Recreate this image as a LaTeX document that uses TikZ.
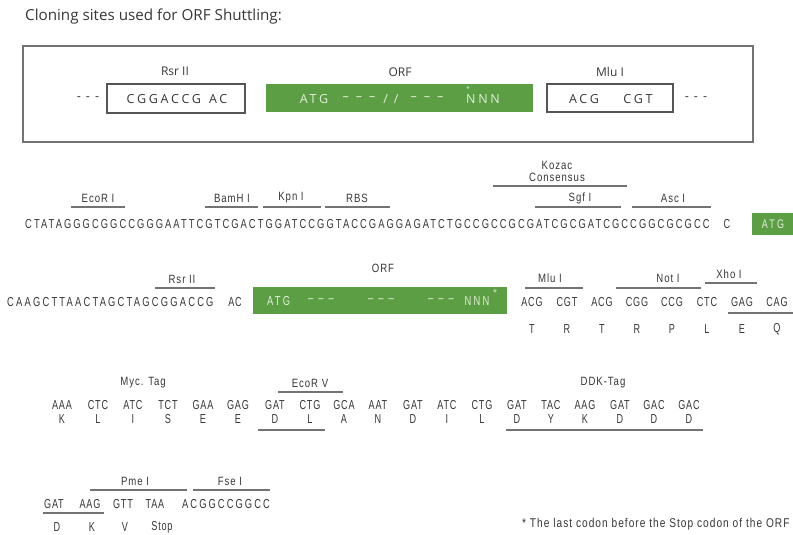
\documentclass[tikz,border=0pt]{standalone}
\usepackage{fontspec}
\setmainfont{Open Sans}
\newfontfamily\seqfont[FakeStretch=0.72,LetterSpace=17]{Liberation Sans}
\newfontfamily\seqfontb[FakeStretch=0.72,LetterSpace=15.8]{Liberation Sans}
\newfontfamily\codfont[FakeStretch=0.7,LetterSpace=6]{Liberation Sans}
\newfontfamily\labfont[FakeStretch=0.8,LetterSpace=8]{Liberation Sans}
\newfontfamily\boxfont[LetterSpace=22]{Open Sans}
\definecolor{orf}{RGB}{92,158,68}
\definecolor{ink}{RGB}{55,55,55}
\definecolor{rulec}{RGB}{115,115,115}
\definecolor{pale}{RGB}{226,238,220}
\newcommand\dsh{–\hspace{7pt}–\hspace{7pt}–}
\newcommand\dshs{–\hspace{5pt}–\hspace{5pt}–}
\tikzset{
  seq/.style={inner sep=0pt, anchor=west, text=ink, font=\seqfont\fontsize{13}{14}\selectfont},
  seqb/.style={seq, font=\seqfontb\fontsize{13}{14}\selectfont},
  cod/.style={inner sep=0pt, text=ink, font=\codfont\fontsize{13}{14}\selectfont},
  lab/.style={inner sep=0pt, text=ink, font=\labfont\fontsize{12}{13}\selectfont},
  bar/.style={draw=rulec, line width=1.3pt},
  boxlab/.style={inner sep=0pt, text=ink, font=\fontsize{12}{13}\selectfont},
  boxtxt/.style={inner sep=0pt, text=ink, font=\boxfont\fontsize{12.5}{14}\selectfont},
  whitebox/.style={draw=ink!85, line width=1.1pt, fill=white},
  greenbox/.style={fill=orf},
}
\begin{document}
\begin{tikzpicture}[x=1pt,y=-1pt]
\useasboundingbox[fill=white] (0,0) rectangle (793,535);

% title
\node[inner sep=0pt, anchor=west, text=ink, font=\fontsize{15.2}{17}\selectfont] (title) at (25,17) {Cloning sites used for ORF Shuttling:};

% top box
\draw[draw=rulec, line width=1.3pt] (23,46) rectangle (753,142);
\node[boxtxt] (dl) at (88,99) {-\hspace{5pt}-\hspace{5pt}-};
\draw[whitebox] (107,84) rectangle (245,113);
\node[boxtxt] (rsrseq) at (177,99) {CGGACCG\hspace{8pt}AC};
\node[boxlab] (rsrlab) at (175,71) {Rsr II};
\fill[greenbox] (266,84) rectangle (533,112);
\node[boxtxt, text=pale] (orfa) at (314,99) {ATG};
\node[boxtxt, text=pale] (orfb) at (359,99) {\dsh};
\node[boxtxt, text=pale] (orfc) at (391,99) {/ /};
\node[boxtxt, text=pale] (orfd) at (427,99) {\dsh};
\node[boxtxt, text=pale] (orfe) at (483,99) {NNN};
\node[inner sep=0pt, text=pale, font=\fontsize{7}{7}\selectfont] (orfstar) at (468,89) {*};
\node[boxlab] (orflab) at (400,72) {ORF};
\draw[whitebox] (547,84) rectangle (673,112);
\node[boxtxt] (mluseqa) at (584,99) {ACG};
\node[boxtxt] (mluseqb) at (638,99) {CGT};
\node[boxlab] (mlulab) at (610,72) {Mlu I};
\node[boxtxt] (dr) at (696,99) {-\hspace{5pt}-\hspace{5pt}-};

% row 2
\node[seqb] (s2) at (25,224) {CTATAGGGCGGCCGGGAATTCGTCGACTGGATCCGGTACCGAGGAGATCTGCCGCCGCGATCGCGATCGCCGGCGCGCC};
\node[cod] (s2c) at (727,224) {C};
\fill[greenbox] (752,213) rectangle (793,235);
\node[cod, text=pale, font=\seqfont\fontsize{12.5}{13}\selectfont] (s2atg) at (773,224) {ATG};
\node[lab] (ecori) at (98,198) {EcoR I};
\draw[bar] (71,207) -- (125,207);
\node[lab] (bamhi) at (232,198) {BamH I};
\draw[bar] (205,207) -- (258,207);
\node[lab] (kpni) at (291,198) {Kpn I};
\draw[bar] (263,207) -- (321,207);
\node[lab] (rbs) at (357,198) {RBS};
\draw[bar] (325,207) -- (390,207);
\node[lab] (kozac) at (557,165) {Kozac};
\node[lab] (consensus) at (557,177) {Consensus};
\draw[bar] (493,186) -- (627,186);
\node[lab] (sgfi) at (580,198) {Sgf I};
\draw[bar] (535,207) -- (621,207);
\node[lab] (asci) at (673,198) {Asc I};
\draw[bar] (632,207) -- (711,207);

% row 3
\node[seq] (s3) at (7,302) {CAAGCTTAACTAGCTAGCGGACCG};
\node[cod] (s3ac) at (235,302) {AC};
\node[lab] (rsr3) at (182,279) {Rsr II};
\draw[bar] (155,288) -- (215,288);
\node[lab] (orf3) at (383,268) {ORF};
\fill[greenbox] (253,287) rectangle (507,314);
\node[seq, text=pale] (g1) at (267,301) {ATG};
\node[seq, anchor=center, text=pale] (g2) at (321,301) {\dshs};
\node[seq, anchor=center, text=pale] (g3) at (381,301) {\dshs};
\node[seq, anchor=center, text=pale] (g4) at (441,301) {\dshs};
\node[seq, anchor=center, text=pale] (g5) at (477,301) {NNN};
\node[inner sep=0pt, text=pale, font=\fontsize{8}{8}\selectfont] (g6) at (495,292) {*};
\foreach \x/\c/\a [count=\i] in {532/ACG/T,567/CGT/R,602/ACG/T,637/CGG/R,672/CCG/P,707/CTC/L,742/GAG/E,777/CAG/Q}{
  \node[cod] (c3\i) at (\x,302) {\c};
  \node[cod] (a3\i) at (\x,329) {\a};
}
\node[lab] (mlu3) at (550,278) {Mlu I};
\draw[bar] (525,288) -- (583,288);
\node[lab] (noti) at (668,278) {Not I};
\draw[bar] (616,288) -- (701,288);
\node[lab] (xhoi) at (729,274) {Xho I};
\draw[bar] (705,283) -- (757,283);
\draw[bar] (728,313) -- (793,313);

% row 4
\foreach \x/\c/\a [count=\i] in {62/AAA/K,98/CTC/L,133/ATC/I,168/TCT/S,203/GAA/E,238/GAG/E,275/GAT/D,310/CTG/L,344/GCA/A,378/AAT/N,413/GAT/D,447/ATC/I,482/CTG/L,517/GAT/D,551/TAC/Y,585/AAG/K,620/GAT/D,654/GAC/D,689/GAC/D}{
  \node[cod] (c4\i) at (\x,405) {\c};
  \node[cod] (a4\i) at (\x,419) {\a};
}
\node[lab] (myc) at (143,383) {Myc. Tag};
\node[lab] (ecorv) at (310,383) {EcoR V};
\draw[bar] (278,392) -- (343,392);
\draw[bar] (258,430) -- (325,430);
\node[lab] (ddk) at (603,383) {DDK-Tag};
\draw[bar] (506,430) -- (703,430);

% row 5
\foreach \x/\c [count=\i] in {54/GAT,90/AAG,123/GTT,155/TAA}{
  \node[cod] (c5\i) at (\x,504) {\c};
}
\node[seqb] (s5) at (182,504) {ACGGCCGGCC};
\foreach \x/\a [count=\i] in {57/D,92/K,125/V,162/Stop}{
  \node[cod] (a5\i) at (\x,527) {\a};
}
\draw[bar] (43,513) -- (104,513);
\node[lab] (pmei) at (135,481) {Pme I};
\draw[bar] (90,490) -- (187,490);
\node[lab] (fsei) at (230,481) {Fse I};
\draw[bar] (193,490) -- (270,490);

% footnote
\node[lab, anchor=west, font=\labfont\fontsize{12.7}{13}\selectfont] (note) at (522,524) {* The last codon before the Stop codon of the ORF};
\end{tikzpicture}
\end{document}
